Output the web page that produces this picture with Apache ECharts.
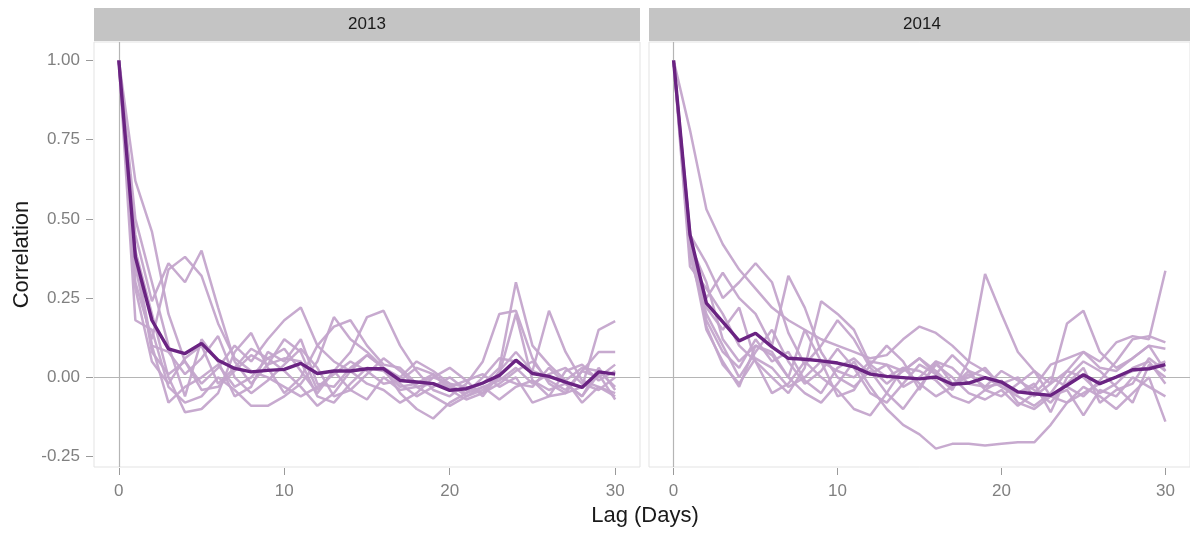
<!DOCTYPE html>
<html>
<head>
<meta charset="utf-8">
<script src="https://cdn.jsdelivr.net/npm/echarts@6/dist/echarts.min.js"></script>
<style>
html,body{margin:0;padding:0;background:#fff;}
#chart{width:1190px;height:533px;}
</style>
</head>
<body>
<div id="chart"></div>
<script>
// ---- DATA ----
const lags = Array.from({length: 31}, (_, i) => i); // 0..30 lag days (categories)
const panelTitles = ['2013', '2014'];
const yTicks = [-0.25, 0, 0.25, 0.5, 0.75, 1.0];
const xTicks = [0, 10, 20, 30];

// 2013 individual series
const y2013_a = [1,0.62,0.46,0.20,0.05,-0.02,0.03,0.10,0.05,0.12,0.18,0.22,0.10,0.05,0.02,0.07,0.03,-0.02,-0.06,-0.03,0.00,-0.04,-0.02,0.03,0.30,0.10,0.04,-0.01,0.03,0.02,-0.03];
const y2013_b = [1,0.45,0.24,0.36,0.30,0.40,0.22,0.05,-0.02,0.04,0.12,0.08,-0.04,0.02,0.08,0.19,0.21,0.10,0.02,-0.04,-0.06,-0.02,0.05,0.20,0.21,0.06,-0.02,-0.05,-0.03,0.15,0.177];
const y2013_c = [1,0.18,0.15,-0.03,-0.08,-0.06,0.00,-0.04,-0.09,-0.09,-0.06,-0.02,0.05,0.19,0.12,0.08,0.03,-0.05,-0.10,-0.13,-0.08,-0.05,0.00,0.06,0.05,0.02,0.21,0.08,-0.01,-0.03,-0.06];
const y2013_d = [1,0.30,0.12,0.34,0.38,0.32,0.17,0.06,0.02,0.00,-0.03,-0.06,-0.03,0.01,0.05,0.02,-0.02,-0.01,0.03,0.01,-0.04,-0.07,-0.05,-0.02,0.02,0.05,-0.01,-0.04,0.02,0.08,0.08];
const y2013_e = [1,0.40,0.20,0.00,-0.11,-0.10,-0.05,0.08,0.14,0.03,-0.05,0.00,0.10,0.16,0.18,0.10,0.04,0.03,-0.02,0.01,-0.03,-0.05,-0.03,-0.01,0.03,-0.02,0.01,0.03,-0.02,-0.04,0.00];
const y2013_f = [1,0.28,0.05,-0.02,0.06,0.10,-0.02,0.03,0.09,0.06,0.02,-0.03,-0.09,-0.05,0.02,-0.02,-0.04,-0.08,-0.05,0.00,0.03,-0.01,-0.06,0.01,0.20,-0.01,-0.06,0.02,0.04,-0.01,0.02];
const y2013_g = [1,0.35,0.10,0.08,0.01,0.06,0.13,0.00,-0.05,-0.01,0.04,0.09,0.03,-0.06,-0.04,0.01,0.06,0.02,-0.03,-0.06,-0.09,-0.06,-0.03,-0.07,-0.03,-0.01,-0.04,-0.02,-0.06,0.03,-0.04];
const y2013_h = [1,0.50,0.30,0.10,-0.06,0.12,0.05,-0.06,-0.03,0.08,0.05,0.12,-0.02,-0.03,0.03,0.07,0.03,0.00,0.05,0.02,-0.02,-0.03,-0.05,0.02,0.08,0.02,0.00,-0.01,-0.08,-0.03,-0.05];
const y2013_i = [1,0.38,0.08,0.01,0.05,-0.04,-0.03,0.02,0.07,0.04,0.06,0.05,-0.06,-0.08,-0.02,0.03,0.02,-0.03,-0.02,0.00,-0.02,-0.06,-0.04,0.00,-0.02,-0.03,0.03,-0.02,-0.06,0.01,-0.07];
const y2013_j = [1,0.38,0.10,-0.08,-0.03,0.00,0.04,-0.03,0.00,0.06,0.09,0.02,-0.05,0.02,-0.04,-0.07,0.00,-0.04,-0.03,-0.02,-0.03,-0.01,0.01,-0.03,0.00,-0.08,-0.06,-0.05,0.02,0.00,0.04];
const mean2013 = [1,0.38,0.18,0.09,0.075,0.107,0.054,0.028,0.017,0.022,0.025,0.044,0.012,0.02,0.02,0.027,0.027,-0.01,-0.015,-0.02,-0.041,-0.036,-0.018,0.006,0.054,0.012,0.003,-0.015,-0.032,0.017,0.01];

// 2014 individual series
const y2014_a = [1,0.78,0.53,0.42,0.34,0.28,0.22,0.18,0.15,0.12,0.10,0.08,0.06,0.07,0.12,0.16,0.14,0.10,0.05,0.02,-0.02,-0.05,-0.03,0.04,0.06,0.08,0.05,0.11,0.13,0.12,0.336];
const y2014_b = [1,0.45,0.36,0.25,0.30,0.36,0.30,0.14,0.04,0.10,0.18,0.12,0.03,-0.02,0.02,0.06,0.01,-0.04,0.05,0.326,0.20,0.08,0.02,-0.02,0.17,0.21,0.08,0.03,0.06,0.10,0.09];
const y2014_c = [1,0.40,0.25,0.33,0.25,0.20,0.10,0.32,0.22,0.08,0.00,-0.03,0.02,-0.05,-0.10,-0.03,0.04,0.00,-0.05,-0.07,-0.04,-0.09,-0.05,0.00,-0.03,-0.06,-0.01,0.05,0.12,0.13,0.11];
const y2014_d = [1,0.35,0.28,0.20,0.10,0.05,0.00,-0.05,0.03,0.24,0.20,0.15,0.04,0.00,0.03,-0.02,-0.06,-0.03,0.02,0.00,-0.03,-0.06,-0.09,-0.05,0.02,0.00,-0.05,-0.02,0.03,0.05,-0.02];
const y2014_e = [1,0.42,0.30,0.12,0.05,0.10,0.07,0.00,-0.05,-0.08,-0.02,0.05,-0.03,-0.10,-0.15,-0.18,-0.225,-0.21,-0.21,-0.215,-0.21,-0.205,-0.205,-0.15,-0.08,-0.05,-0.02,0.00,0.02,0.03,0.05];
const y2014_f = [1,0.38,0.20,0.10,0.00,0.08,0.15,0.05,-0.02,0.02,0.09,0.03,-0.05,-0.08,-0.02,0.04,0.01,0.07,0.02,-0.04,-0.06,-0.02,0.02,-0.06,-0.08,-0.03,-0.06,-0.10,-0.05,0.00,-0.14];
const y2014_g = [1,0.43,0.22,0.15,0.22,0.05,-0.05,-0.02,0.05,0.00,-0.04,-0.10,-0.12,-0.05,0.03,0.02,-0.01,-0.06,-0.08,-0.04,-0.01,-0.08,-0.10,-0.06,-0.04,-0.12,-0.04,-0.06,0.00,-0.03,-0.06];
const y2014_h = [1,0.44,0.18,0.08,0.03,0.12,0.05,0.08,-0.01,-0.05,0.03,0.06,0.01,0.04,-0.03,0.00,0.05,0.03,-0.02,-0.03,0.02,-0.01,-0.04,-0.08,-0.02,0.03,-0.08,-0.04,-0.02,0.06,0.02];
const y2014_i = [1,0.41,0.15,0.05,-0.03,0.10,0.08,0.00,0.15,0.05,-0.06,-0.04,0.04,0.10,0.05,-0.04,0.05,-0.02,0.00,0.03,-0.03,-0.05,-0.02,-0.11,0.00,0.05,0.02,-0.03,-0.08,0.04,0.00];
const y2014_j = [1,0.46,0.16,0.04,-0.02,0.06,0.03,-0.03,0.00,0.05,0.02,0.00,0.05,0.04,0.02,0.06,0.02,-0.03,0.01,-0.03,-0.02,0.00,-0.06,-0.02,0.02,0.08,0.03,0.02,0.06,0.10,0.02];
const mean2014 = [1,0.45,0.234,0.175,0.115,0.139,0.096,0.06,0.057,0.052,0.045,0.033,0.01,0.003,-0.001,-0.005,0.001,-0.022,-0.018,-0.001,-0.015,-0.046,-0.052,-0.057,-0.025,0.008,-0.02,0.001,0.024,0.027,0.04];

// ---- BUILD ----
const lines2013 = [y2013_a,y2013_b,y2013_c,y2013_d,y2013_e,y2013_f,y2013_g,y2013_h,y2013_i,y2013_j];
const lines2014 = [y2014_a,y2014_b,y2014_c,y2014_d,y2014_e,y2014_f,y2014_g,y2014_h,y2014_i,y2014_j];
const means = [mean2013, mean2014];

const FONT = '"Liberation Sans", Arial, Helvetica, sans-serif';
const LIGHT = '#c4a5cc';
const DARK = '#6a2382';
const pair = arr => arr.map((v, i) => [lags[i], v]);

const grids = [
  {left: 94, top: 42, width: 546, height: 425},
  {left: 649, top: 42, width: 546, height: 425}
];

const xAxes = grids.map((g, k) => ({
  type: 'value', gridIndex: k, min: -1.5, max: 31.5, offset: 1,
  axisLine: {show: false, onZero: false},
  axisTick: {show: true, length: 7, lineStyle: {color: '#9a9a9a', width: 1}, customValues: xTicks},
  axisLabel: {show: true, customValues: xTicks, margin: 15, color: '#808080', fontSize: 17, fontFamily: FONT},
  splitLine: {show: false}
}));
const yAxes = grids.map((g, k) => ({
  type: 'value', gridIndex: k, min: -0.283, max: 1.058, offset: 1,
  axisLine: {show: false, onZero: false},
  axisTick: {show: k === 0, length: 7, lineStyle: {color: '#9a9a9a', width: 1}, customValues: yTicks},
  axisLabel: {show: k === 0, customValues: yTicks, margin: 13, color: '#808080', fontSize: 17, fontFamily: FONT,
              formatter: v => v.toFixed(2)},
  splitLine: {show: false},
  name: k === 0 ? 'Correlation' : '', nameLocation: 'middle', nameGap: 60,
  nameTextStyle: {fontSize: 22, color: '#1a1a1a', fontFamily: FONT}
}));

const series = [];
[lines2013, lines2014].forEach((set, k) => {
  set.forEach((arr, j) => {
    const s = {
      type: 'line', xAxisIndex: k, yAxisIndex: k, data: pair(arr),
      showSymbol: false, symbol: 'none', silent: true, z: 2,
      lineStyle: {color: LIGHT, width: 2.5, opacity: 0.95}
    };
    if (j === 0) {
      s.markLine = {
        silent: true, symbol: ['none', 'none'], label: {show: false}, z: 1,
        lineStyle: {color: '#b5b5b5', width: 1.2, type: 'solid'},
        data: [{xAxis: 0}, {yAxis: 0}]
      };
    }
    series.push(s);
  });
  series.push({
    type: 'line', xAxisIndex: k, yAxisIndex: k, data: pair(means[k]),
    showSymbol: false, symbol: 'none', silent: true, z: 5,
    lineStyle: {color: DARK, width: 3.4}
  });
});

const graphic = [];
grids.forEach((g, k) => {
  graphic.push({
    type: 'rect', left: g.left, top: 8, z: 10,
    shape: {width: g.width, height: 33},
    style: {fill: '#c4c4c4'}
  });
  graphic.push({
    type: 'text', x: g.left + g.width / 2, y: 24.5, z: 11,
    style: {text: panelTitles[k], fill: '#1a1a1a', font: '17px ' + FONT, textAlign: 'center', textVerticalAlign: 'middle'}
  });
});
graphic.push({
  type: 'text', x: 645, y: 516, z: 11,
  style: {text: 'Lag (Days)', fill: '#1a1a1a', font: '22px ' + FONT, textAlign: 'center', textVerticalAlign: 'middle'}
});

const chart = echarts.init(document.getElementById('chart'), null, {renderer: 'canvas'});
chart.setOption({
  animation: false,
  backgroundColor: '#ffffff',
  grid: grids.map(g => Object.assign({show: true, borderColor: '#e3e3e3', borderWidth: 1, backgroundColor: 'transparent'}, g)),
  xAxis: xAxes,
  yAxis: yAxes,
  series: series,
  graphic: graphic
});
</script>
</body>
</html>
